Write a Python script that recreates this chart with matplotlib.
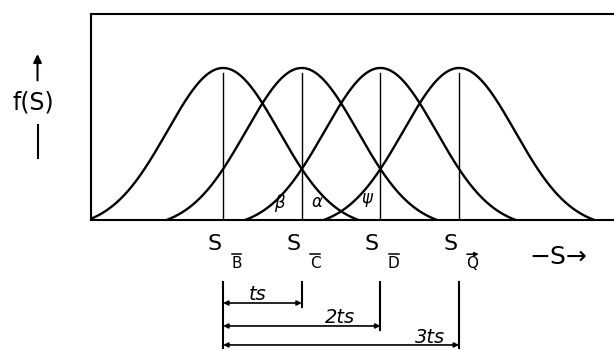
import numpy as np
import matplotlib
matplotlib.use("Agg")
import matplotlib.pyplot as plt

# stimulus means, in units of ts from S_B
centers = [0, 1, 2, 3]
sub_letters = ['B', 'C', 'D', 'Q']
sub_marks = ['bar', 'bar', 'bar', 'arrow']
sigma = 0.71
cutoff = 1.72  # curves drawn only out to +-cutoff
multiples = [1, 2, 3]
dim_labels = ['ts', '2ts', '3ts']
greek = ['β', 'α', 'ψ']
greek_x = [0.72, 1.19, 1.83]
greek_y = [0.11, 0.12, 0.145]


def bell(s, c):
    g = np.exp(-(s - c) ** 2 / (2 * sigma ** 2))
    g0 = np.exp(-cutoff ** 2 / (2 * sigma ** 2))
    return (g - g0) / (1 - g0)


fig = plt.figure(figsize=(6.14, 3.5), dpi=100)
ax = fig.add_axes([91 / 614, 130 / 350, 523 / 614, 206 / 350])
ax.set_xlim(-1.68, 4.97)
ax.set_ylim(0, 1.355)
ax.set_xticks([])
ax.set_yticks([])
ax.spines['right'].set_visible(False)
for side in ['left', 'top', 'bottom']:
    ax.spines[side].set_linewidth(1.5)

for c in centers:
    s = np.linspace(c - cutoff, c + cutoff, 300)
    ax.plot(s, bell(s, c), color='black', lw=1.7, solid_capstyle='round')
    ax.plot([c, c], [0, 0.97], color='black', lw=1.0)

for g, gx, gy in zip(greek, greek_x, greek_y):
    ax.text(gx, gy, g, fontsize=12, style='italic', ha='center', va='center')

# labels under the axis: S with a marked subscript letter
for c, letter, mark in zip(centers, sub_letters, sub_marks):
    ax.text(c - 0.11, -0.16, 'S', fontsize=16, ha='center', va='center', clip_on=False)
    sx = c + 0.17
    ax.text(sx, -0.285, letter, fontsize=11, ha='center', va='center', clip_on=False)
    if mark == 'bar':
        ax.plot([sx - 0.06, sx + 0.06], [-0.225, -0.225], color='black', lw=1.1, clip_on=False)
    else:
        ax.annotate('', xy=(sx + 0.08, -0.225), xytext=(sx - 0.07, -0.225), xycoords='data',
                    arrowprops=dict(arrowstyle='-|>', color='black', lw=1.1,
                                    mutation_scale=6, shrinkA=0, shrinkB=0),
                    annotation_clip=False)

ax.text(4.26, -0.245, '−S→', fontsize=18, ha='center', va='center', clip_on=False)

# f(S) with arrow
ax.text(-2.41, 0.77, 'f(S)', fontsize=17, ha='center', va='center', clip_on=False)
ax.annotate('', xy=(-2.36, 1.11), xytext=(-2.36, 0.9), xycoords='data',
            arrowprops=dict(arrowstyle='-|>', color='black', lw=1.5, mutation_scale=12),
            annotation_clip=False)
ax.plot([-2.36, -2.36], [0.625, 0.41], color='black', lw=1.5, clip_on=False)

# dimension lines for multiples of ts
tick_bottoms = [-0.57, -0.725, -0.845]
arrow_y = [-0.546, -0.697, -0.822]
label_x = [0.44, 1.49, 2.63]
label_y = [-0.49, -0.64, -0.775]
ax.plot([0, 0], [-0.41, -0.845], color='black', lw=1.5, clip_on=False)
for m, tb, ay, lab, lx, ly in zip(multiples, tick_bottoms, arrow_y, dim_labels, label_x, label_y):
    ax.plot([m, m], [-0.41, tb], color='black', lw=1.5, clip_on=False)
    ax.annotate('', xy=(m, ay), xytext=(0, ay), xycoords='data',
                arrowprops=dict(arrowstyle='<|-|>', color='black', lw=1.2,
                                mutation_scale=7, shrinkA=0, shrinkB=0),
                annotation_clip=False)
    ax.text(lx, ly, lab, fontsize=14, style='italic', ha='center', va='center', clip_on=False)

fig.savefig('out.png', dpi=100)
